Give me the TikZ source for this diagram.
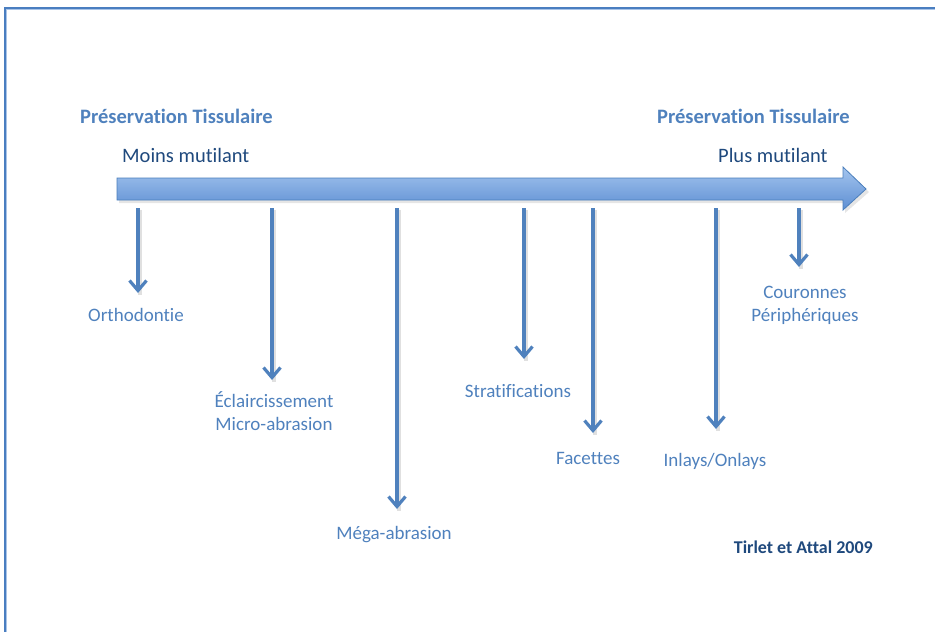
\documentclass[tikz,border=0pt]{standalone}
\usepackage{fontspec}
\setmainfont[Ligatures=NoCommon]{Carlito}
\usetikzlibrary{arrows.meta}
\definecolor{accent}{HTML}{4F81BD}
\definecolor{navy}{HTML}{1F497D}
\definecolor{framedark}{HTML}{4A7EC0}
\definecolor{framelight}{HTML}{A9C4E8}
\definecolor{arrtop}{HTML}{A3C4EE}
\definecolor{arrbot}{HTML}{5E8FD3}
\definecolor{arredge}{HTML}{4A7EBB}
\tikzset{
  lbl/.style={text=accent, font=\fontsize{19}{23}\selectfont, align=center, inner sep=0pt},
  ttl/.style={text=accent, font=\fontsize{20.5}{24}\selectfont\bfseries, inner sep=0pt},
  sub/.style={text=navy, font=\fontsize{20.5}{24}\selectfont, inner sep=0pt},
  cite/.style={text=navy, font=\fontsize{18}{22}\selectfont\bfseries, inner sep=0pt},
  down/.style={draw=accent, line width=3.2pt, -{Straight Barb[length=10pt,width=17pt]}},
  shadowline/.style={draw=black!12, line width=4pt},
}
\begin{document}
\begin{tikzpicture}[x=1pt,y=-1pt]
\useasboundingbox (0,0) rectangle (935,632);
% frame (cropped)
\draw[framedark, line width=2pt] (5,632) -- (5,7.5) -- (935,7.5);
\draw[framelight, line width=1pt] (6.8,632) -- (6.8,9.4) -- (935,9.4);
% big arrow
\fill[black!10] (119,181) -- (845,181) -- (845,170) -- (869,192) -- (845,213) -- (845,203) -- (119,203) -- cycle;
\shade[top color=arrtop, bottom color=arrbot, draw=arredge, line width=0.8pt]
  (117,178) -- (843,178) -- (843,167) -- (866,189) -- (843,210) -- (843,200) -- (117,200) -- cycle;
% titles
\node[ttl, anchor=west] (tl) at (80,116) {Préservation Tissulaire};
\node[ttl, anchor=west] (tr) at (657,116) {Préservation Tissulaire};
\node[sub, anchor=west] (sl) at (122,155) {Moins mutilant};
\node[sub, anchor=west] (sr) at (718,155) {Plus mutilant};
% labels
\node[lbl] (l1) at (136,315) {Orthodontie};
\node[lbl] (l2) at (274,411) {Éclaircissement\\Micro-abrasion};
\node[lbl] (l3) at (394,535) {Méga-abrasion};
\node[lbl] (l4) at (518,391) {Stratifications};
\node[lbl] (l5) at (588,458) {Facettes};
\node[lbl] (l6) at (715,461) {Inlays/Onlays};
\node[lbl] (l7) at (805,305) {Couronnes\\Périphériques};
\node[cite, anchor=east] (c) at (873,547) {Tirlet et Attal 2009};
% arrow endpoints
\coordinate (s1) at (138,208); \coordinate (e1) at (138,293);
\coordinate (s2) at (272,208); \coordinate (e2) at (272,380);
\coordinate (s3) at (397,208); \coordinate (e3) at (397,509);
\coordinate (s4) at (524,208); \coordinate (e4) at (524,359);
\coordinate (s5) at (593,208); \coordinate (e5) at (593,433);
\coordinate (s6) at (716,208); \coordinate (e6) at (716,429);
\coordinate (s7) at (799,208); \coordinate (e7) at (799,267);
\foreach \i in {1,...,7}{
  \draw[shadowline] ([shift={(1.5,1.5)}]s\i) -- ([shift={(1.5,1.5)}]e\i);
  \draw[down] (s\i) -- (e\i);
}
\end{tikzpicture}
\end{document}
